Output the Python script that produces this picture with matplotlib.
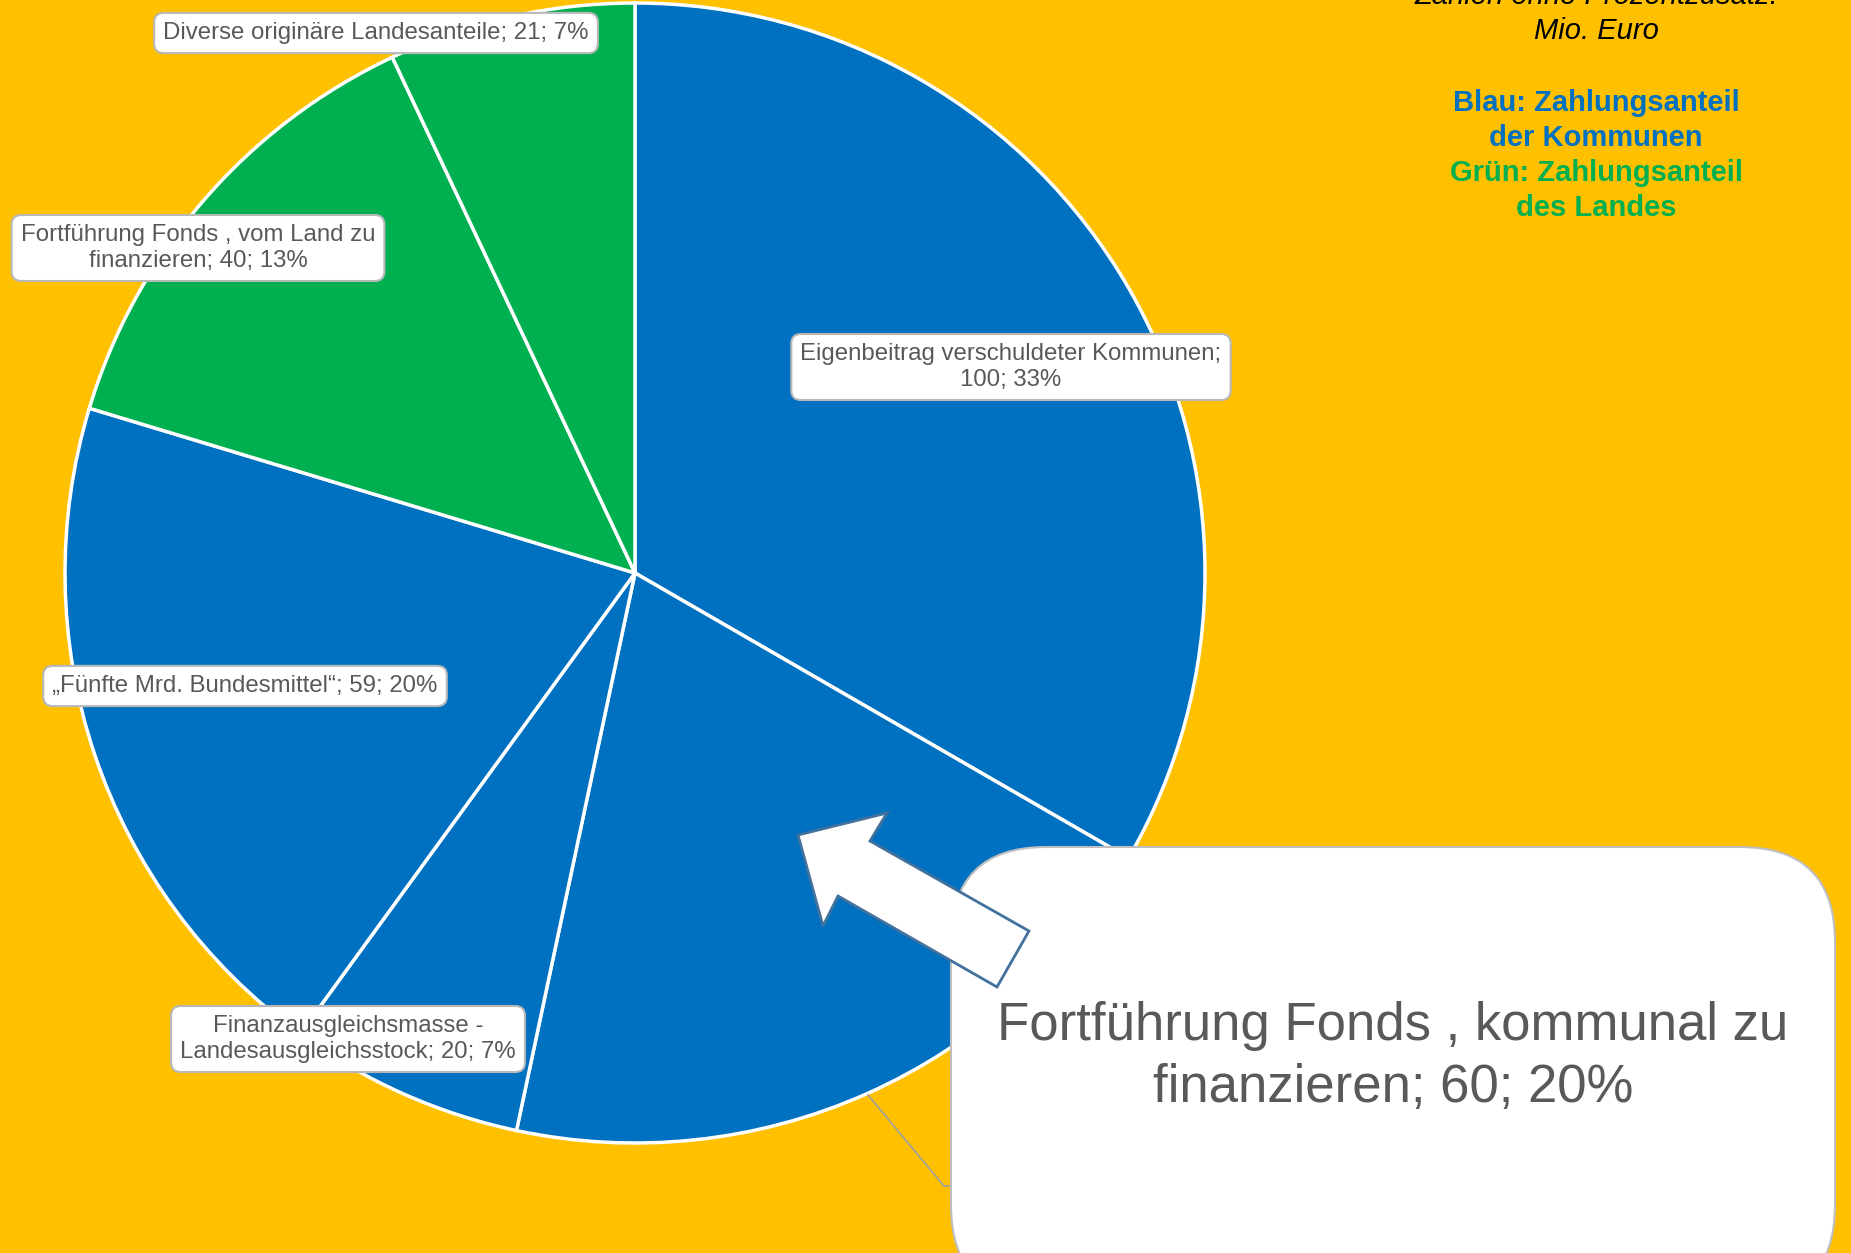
import matplotlib.pyplot as plt
from matplotlib.patches import FancyBboxPatch, Polygon

plt.rcParams['font.family'] = ['Liberation Sans', 'DejaVu Sans']

# data, clockwise from the top
labels = ['Eigenbeitrag verschuldeter Kommunen;',
          'Fortführung Fonds , kommunal zu\nfinanzieren;',
          'Finanzausgleichsmasse -\nLandesausgleichsstock;',
          '„Fünfte Mrd. Bundesmittel“;',
          'Fortführung Fonds , vom Land zu\nfinanzieren;',
          'Diverse originäre Landesanteile;']
values = [100, 60, 20, 59, 40, 21]
colors = ['#0070C0', '#0070C0', '#0070C0', '#0070C0', '#00B050', '#00B050']

# label centres in image pixels (x, y from top)
label_pos = [(1011, 367), None, (348, 1039), (245, 686), (198, 248), (376, 33)]

W, H = 1851, 1253
BG = '#FFC000'
TXT = '#595959'

fig = plt.figure(figsize=(W / 100, H / 100), dpi=100, facecolor=BG)
ax = fig.add_axes([0, 0, 1, 1])
ax.set_facecolor(BG)

def fy(y):
    return H - y

ax.pie(values, colors=colors, startangle=90, counterclock=False,
       center=(635, fy(573)), radius=570,
       wedgeprops=dict(edgecolor='white', linewidth=2.5))
ax.set_xlim(0, W)
ax.set_ylim(0, H)
ax.set_aspect('equal')
ax.axis('off')

total = sum(values)

def label_text(i):
    pct = round(values[i] / total * 100)
    if i == 0:
        return f'{labels[i]}\n{values[i]}; {pct}%'
    return f'{labels[i]} {values[i]}; {pct}%'

for i, pos in enumerate(label_pos):
    if pos is None:
        continue
    ax.text(pos[0], fy(pos[1]), label_text(i), ha='center', va='center',
            fontsize=17.3, color=TXT, linespacing=1.22, zorder=5,
            bbox=dict(boxstyle='round,pad=0.38,rounding_size=0.4', fc='white',
                      ec='#B8B8B8', lw=1.5))

# leader line to the big callout
ax.plot([868, 944, 952], [fy(1095), fy(1186), fy(1186)], color='#A0A0A0', lw=1.2, zorder=4)

# big callout box
box = FancyBboxPatch((951, fy(1300)), 884, 1300 - 847,
                     boxstyle='round,pad=0,rounding_size=95',
                     fc='white', ec='#BFBFBF', lw=1.5, zorder=6)
ax.add_patch(box)
ax.text(1393, fy(1057), label_text(1), ha='center', va='center',
        fontsize=38, color=TXT, linespacing=1.3, zorder=7)

# arrow pointing into the pie
arrow_pts = [(798, 835), (887, 813), (870, 841), (1029, 931),
             (997, 987), (838, 896), (823, 926)]
ax.add_patch(Polygon([(x, fy(y)) for x, y in arrow_pts], closed=True,
                     fc='white', ec='#41719C', lw=2, zorder=8))

# note in the top right corner (first line is cut by the top edge, as in the original)
note = [('Zahlen ohne Prozentzusatz:', 'black', 'italic', 'normal', 4),
        ('Mio. Euro', 'black', 'italic', 'normal', 39),
        ('Blau: Zahlungsanteil', '#0070C0', 'normal', 'bold', 111),
        ('der Kommunen', '#0070C0', 'normal', 'bold', 146),
        ('Grün: Zahlungsanteil', '#00B050', 'normal', 'bold', 181),
        ('des Landes', '#00B050', 'normal', 'bold', 216)]
for txt, c, style, weight, base in note:
    ax.text(1596, fy(base), txt, ha='center', va='baseline', fontsize=21,
            color=c, style=style, weight=weight)

fig.savefig('out.png', dpi=100, facecolor=BG)
